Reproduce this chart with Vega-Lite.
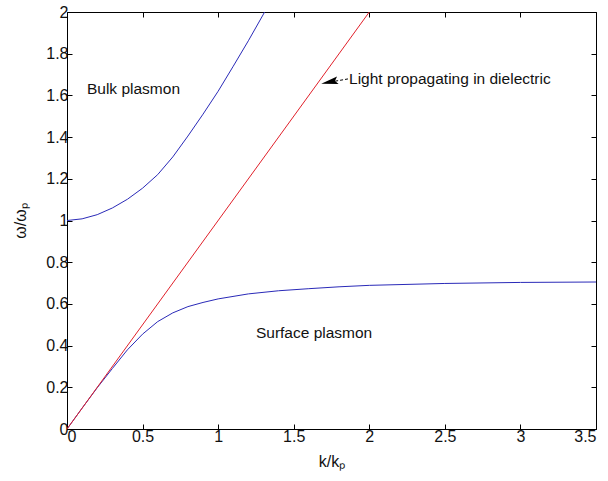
{
  "$schema": "https://vega.github.io/schema/vega-lite/v6.json",
  "width": 529,
  "height": 417,
  "autosize": {"type": "none"},
  "padding": {"left": 67, "top": 12, "right": 12, "bottom": 52},
  "background": "white",
  "config": {
    "view": {"stroke": "black", "strokeWidth": 1},
    "axis": {
      "grid": false,
      "domainColor": "black",
      "tickColor": "black",
      "labelColor": "#111",
      "titleColor": "#111",
      "labelFont": "Liberation Sans",
      "titleFont": "Liberation Sans",
      "labelFontSize": 16,
      "titleFontSize": 16,
      "titleFontWeight": "normal",
      "tickSize": -5,
      "labelPadding": 4
    },
    "text": {"font": "Liberation Sans"}
  },
  "resolve": {"axis": {"x": "independent", "y": "independent"}},
  "datasets": {
    "curves": [
      {"series": "bulk", "k": 0, "w": 1.0},
      {"series": "bulk", "k": 0.1, "w": 1.008},
      {"series": "bulk", "k": 0.2, "w": 1.028},
      {"series": "bulk", "k": 0.3, "w": 1.06},
      {"series": "bulk", "k": 0.4, "w": 1.102},
      {"series": "bulk", "k": 0.5, "w": 1.155},
      {"series": "bulk", "k": 0.6, "w": 1.22},
      {"series": "bulk", "k": 0.7, "w": 1.305},
      {"series": "bulk", "k": 0.8, "w": 1.405},
      {"series": "bulk", "k": 0.9, "w": 1.51},
      {"series": "bulk", "k": 1.0, "w": 1.62},
      {"series": "bulk", "k": 1.1, "w": 1.74},
      {"series": "bulk", "k": 1.2, "w": 1.862},
      {"series": "bulk", "k": 1.3, "w": 1.99},
      {"series": "bulk", "k": 1.307, "w": 2.0},
      {"series": "surface", "k": 0, "w": 0},
      {"series": "surface", "k": 0.1, "w": 0.1},
      {"series": "surface", "k": 0.2, "w": 0.198},
      {"series": "surface", "k": 0.3, "w": 0.29},
      {"series": "surface", "k": 0.4, "w": 0.38},
      {"series": "surface", "k": 0.5, "w": 0.455},
      {"series": "surface", "k": 0.6, "w": 0.515},
      {"series": "surface", "k": 0.7, "w": 0.557},
      {"series": "surface", "k": 0.8, "w": 0.587},
      {"series": "surface", "k": 0.9, "w": 0.607},
      {"series": "surface", "k": 1.0, "w": 0.624},
      {"series": "surface", "k": 1.2, "w": 0.648},
      {"series": "surface", "k": 1.4, "w": 0.663},
      {"series": "surface", "k": 1.6, "w": 0.673},
      {"series": "surface", "k": 1.8, "w": 0.682},
      {"series": "surface", "k": 2.0, "w": 0.689},
      {"series": "surface", "k": 2.5, "w": 0.698},
      {"series": "surface", "k": 3.0, "w": 0.703},
      {"series": "surface", "k": 3.5, "w": 0.705},
      {"series": "light", "k": 0, "w": 0},
      {"series": "light", "k": 2.0, "w": 2.0}
    ],
    "labels": [
      {"label": "Bulk plasmon", "k": 0.132, "w": 1.63},
      {"label": "Surface plasmon", "k": 1.25, "w": 0.459},
      {"label": "Light propagating in dielectric", "k": 1.866, "w": 1.679}
    ],
    "arrowline": [
      {"k": 1.859, "w": 1.679, "k2": 1.74, "w2": 1.664}
    ],
    "arrowhead": [
      {"k": 1.737, "w": 1.664}
    ]
  },
  "layer": [
    {
      "data": {"name": "curves"},
      "mark": {"type": "line", "strokeWidth": 1, "clip": true},
      "encoding": {
        "x": {
          "field": "k", "type": "quantitative",
          "scale": {"domain": [0, 3.5], "nice": false, "zero": false},
          "axis": {"orient": "bottom", "values": [0, 0.5, 1, 1.5, 2, 2.5, 3, 3.5], "title": "k/kₚ", "titlePadding": 9, "format": "~g"}
        },
        "y": {
          "field": "w", "type": "quantitative",
          "scale": {"domain": [0, 2], "nice": false, "zero": false},
          "axis": {"orient": "left", "values": [0, 0.2, 0.4, 0.6, 0.8, 1, 1.2, 1.4, 1.6, 1.8, 2], "title": "ω/ωₚ", "titlePadding": 17, "format": "~g"}
        },
        "detail": {"field": "series"},
        "color": {
          "field": "series", "type": "nominal",
          "scale": {"domain": ["bulk", "surface", "light"], "range": ["#2a2ab8", "#2a2ab8", "#e0202a"]},
          "legend": null
        },
        "order": {"field": "k", "type": "quantitative"}
      }
    },
    {
      "data": {"name": "labels"},
      "mark": {"type": "text", "align": "left", "baseline": "middle", "fontSize": 15.5, "color": "#111"},
      "encoding": {
        "x": {"field": "k", "type": "quantitative", "axis": {"orient": "top", "values": [0, 0.5, 1, 1.5, 2, 2.5, 3, 3.5], "labels": false, "title": null, "domain": false}},
        "y": {"field": "w", "type": "quantitative", "axis": {"orient": "right", "values": [0, 0.2, 0.4, 0.6, 0.8, 1, 1.2, 1.4, 1.6, 1.8, 2], "labels": false, "title": null, "domain": false}},
        "text": {"field": "label"}
      }
    },
    {
      "data": {"name": "arrowline"},
      "mark": {"type": "rule", "color": "black", "strokeWidth": 1, "strokeDash": [3, 2]},
      "encoding": {
        "x": {"field": "k", "type": "quantitative", "axis": null},
        "y": {"field": "w", "type": "quantitative", "axis": null},
        "x2": {"field": "k2"},
        "y2": {"field": "w2"}
      }
    },
    {
      "data": {"name": "arrowhead"},
      "mark": {"type": "point", "shape": "M-1,0L1,-0.45L0.65,0L1,0.45Z", "filled": true, "color": "black", "opacity": 1, "size": 289, "angle": -12},
      "encoding": {
        "x": {"field": "k", "type": "quantitative", "axis": null},
        "y": {"field": "w", "type": "quantitative", "axis": null}
      }
    }
  ]
}
